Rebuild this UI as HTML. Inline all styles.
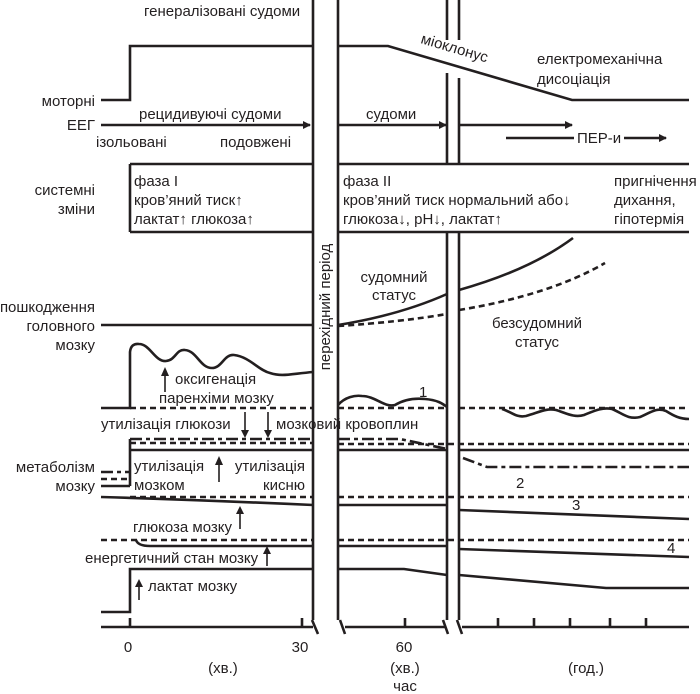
<!DOCTYPE html>
<html><head><meta charset="utf-8"><style>
html,body{margin:0;padding:0;background:#fff;}
svg{display:block;}
text{font-family:"Liberation Sans",sans-serif;font-size:15px;fill:#231f20;}
.s{stroke:#231f20;stroke-width:2.6;fill:none;}
.t{stroke:#231f20;stroke-width:1.6;fill:none;}
.d{stroke:#231f20;stroke-width:2.6;fill:none;stroke-dasharray:6,4;}
.dd{stroke:#231f20;stroke-width:2.6;fill:none;stroke-dasharray:12,4,4,4;}
</style></head><body>
<svg width="700" height="694" viewBox="0 0 700 694" xmlns="http://www.w3.org/2000/svg">
<defs><marker id="a" markerWidth="8" markerHeight="8" refX="7" refY="4" orient="auto" markerUnits="userSpaceOnUse"><path d="M0,0 L8,4 L0,8 z" fill="#231f20"/></marker></defs>

<line class="s" x1="313" y1="0" x2="313" y2="620"/>
<line class="s" x1="338" y1="0" x2="338" y2="620"/>
<path class="s" d="M447,0 V40 M447,73 V164 M447,233 V620 M459,0 V40 M459,78 V164 M459,233 V620"/>

<path class="s" d="M101,100 H130 V46 H313"/>
<path class="s" d="M338,46 H388 L572,100 H689"/>
<text x="144" y="16">генералізовані судоми</text>
<text x="0" y="0" transform="translate(420,43) rotate(16.4)">міоклонус</text>
<text x="537" y="64">електромеханічна</text>
<text x="537" y="84">дисоціація</text>

<path class="s" d="M101,125 H310" marker-end="url(#a)"/>
<path class="s" d="M338,125 H446" marker-end="url(#a)"/>
<path class="s" d="M459,125 H572" marker-end="url(#a)"/>
<path class="s" d="M506,138 H574 M624,138 H666" marker-end="url(#a)"/>
<text x="577" y="143">ПЕР-и</text>
<text x="139" y="119">рецидивуючі судоми</text>
<text x="366" y="119">судоми</text>
<text x="96" y="147">ізольовані</text>
<text x="220" y="147">подовжені</text>

<path class="s" d="M130,164 H313 M130,232 H313 M130,164 V232 M338,164 H689 M338,232 H689"/>
<text x="134" y="186">фаза I</text>
<text x="134" y="205">кров’яний тиск↑</text>
<text x="134" y="224">лактат↑ глюкоза↑</text>
<text x="343" y="186">фаза II</text>
<text x="343" y="205">кров’яний тиск нормальний або↓</text>
<text x="343" y="224">глюкоза↓, pH↓, лактат↑</text>
<text x="614" y="186">пригнічення</text>
<text x="614" y="205">дихання,</text>
<text x="614" y="224">гіпотермія</text>

<path class="s" d="M101,325 H313"/>
<path class="s" d="M338,325 Q400,315 447,294"/>
<path class="s" d="M459,290 Q530,270 573,238"/>
<path class="d" d="M338,326 Q400,322 447,314"/>
<path class="d" d="M459,310 Q550,295 605,263"/>
<text x="394" y="282" text-anchor="middle">судомний</text>
<text x="394" y="300" text-anchor="middle">статус</text>
<text x="537" y="328" text-anchor="middle">безсудомний</text>
<text x="537" y="347" text-anchor="middle">статус</text>
<text x="0" y="0" transform="translate(330,307) rotate(-90)" text-anchor="middle">перехідний період</text>

<path class="s" d="M101,408 H130 V352 Q131,343 139,344 C150,344 155,362 166,361 C176,360 176,349 185,350 C197,351 200,368 212,368 C222,368 224,354 234,355 C250,357 258,370 270,373 C282,377 290,374 313,372"/>
<path class="d" d="M130,408 H313 M338,408 H447 M459,408 H689"/>
<path class="s" d="M338,405 C345,397 355,395 362,396 C375,396 385,408 395,405 C405,399 415,398 425,399 C438,400 443,404 447,407"/>
<text x="419" y="397">1</text>
<path class="s" d="M502,409 C512,412 516,418 526,416 C540,412 546,408 556,410 C566,413 574,418 584,415 C594,411 602,407 612,409 C622,413 628,420 640,417 C650,413 656,407 666,411 C674,416 680,419 689,419"/>
<text x="101" y="429">утилізація глюкози</text>
<text x="276" y="429">мозковий кровоплин</text>
<path class="t" d="M245,412 V434 M268,412 V434"/>
<path d="M241,430 L245,438 L249,430 z M264,430 L268,438 L272,430 z" fill="#231f20"/>

<path class="dd" d="M130,439 H313 M338,439 H400 L447,449"/>
<path class="d" d="M130,443 H313 M338,444 H689"/>
<path class="s" d="M130,450 H313 M338,450 H447 M459,450 H689"/>
<path class="s" d="M130,439 V486"/>
<path class="dd" d="M101,472 H130"/>
<path class="d" d="M101,479 H130"/>
<path class="s" d="M101,486 H130"/>
<path class="dd" d="M463,458 L487,467 H689"/>
<text x="134" y="471">утилізація</text>
<text x="134" y="490">мозком</text>
<text x="305" y="471" text-anchor="end">утилізація</text>
<text x="305" y="490" text-anchor="end">кисню</text>
<path class="t" d="M219,482 V462"/>
<path d="M215,465 L219,456 L223,465 z" fill="#231f20"/>
<text x="516" y="488">2</text>

<path class="d" d="M130,497 H313 M338,497 H689"/>
<path class="s" d="M101,497 Q200,500 313,505 M338,505 H447 M459,510 L689,519"/>
<text x="572" y="510">3</text>
<text x="133" y="532">глюкоза мозку</text>
<path class="t" d="M240,529 V512"/>
<path d="M236,514 L240,506 L244,514 z" fill="#231f20"/>

<path class="d" d="M101,540 H313 M338,540 H689"/>
<path class="s" d="M136,540 Q138,546 150,546 H313 M338,546 H447 M459,549 L689,557"/>
<text x="667" y="553">4</text>
<text x="85" y="563">енергетичний стан мозку</text>
<path class="t" d="M267,566 V552"/>
<path d="M263,554 L267,546 L271,554 z" fill="#231f20"/>

<path class="s" d="M101,612 H130 V569 H313 M338,569 H404 L447,575 M459,575 L606,588 H689"/>
<text x="148" y="591">лактат мозку</text>
<path class="t" d="M139,600 V584"/>
<path d="M135,587 L139,579 L143,587 z" fill="#231f20"/>

<g text-anchor="end">
<text x="95" y="106">моторні</text>
<text x="95" y="130">ЕЕГ</text>
<text x="95" y="195">системні</text>
<text x="95" y="214">зміни</text>
<text x="95" y="312">пошкодження</text>
<text x="95" y="331">головного</text>
<text x="95" y="350">мозку</text>
<text x="95" y="472">метаболізм</text>
<text x="95" y="491">мозку</text>
</g>
<text x="175" y="384">оксигенація</text>
<text x="159" y="403">паренхіми мозку</text>
<path class="t" d="M165,392 V374"/>
<path d="M161,376 L165,367 L169,376 z" fill="#231f20"/>

<path class="s" d="M101,627 H313 M345,627 H446 M462,627 H689"/>
<path class="s" d="M130,627 V618 M302,627 V618 M405,627 V618 M498,627 V618 M534,627 V618 M570,627 V618 M610,627 V618 M646,627 V618"/>
<path class="s" d="M312,620 L318,634 M340,620 L345,634 M443,620 L448,634 M457,620 L462,634"/>
<text x="128" y="652" text-anchor="middle">0</text>
<text x="300" y="652" text-anchor="middle">30</text>
<text x="404" y="652" text-anchor="middle">60</text>
<text x="223" y="673" text-anchor="middle">(хв.)</text>
<text x="405" y="673" text-anchor="middle">(хв.)</text>
<text x="405" y="691" text-anchor="middle">час</text>
<text x="586" y="673" text-anchor="middle">(год.)</text>
</svg>
</body></html>
